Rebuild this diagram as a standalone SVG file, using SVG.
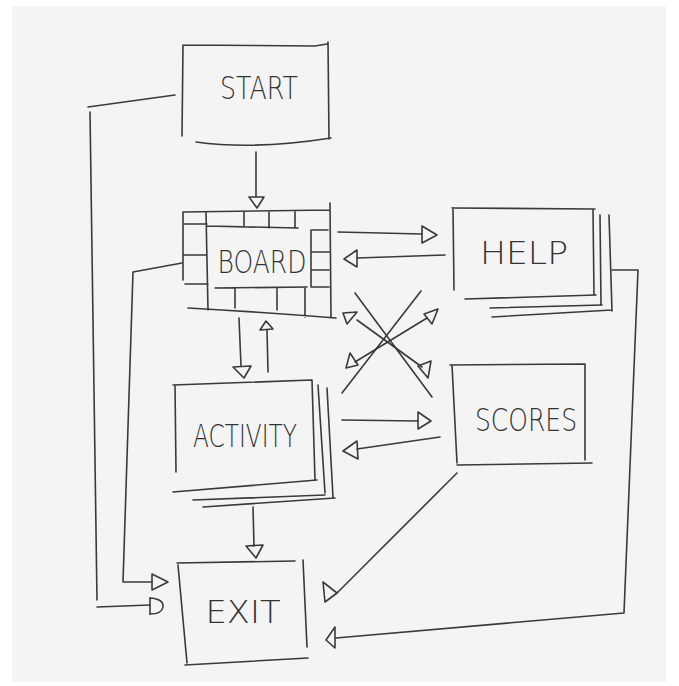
<svg xmlns="http://www.w3.org/2000/svg" width="679" height="686" viewBox="0 0 679 686">
<style>
.s{fill:none;stroke:#3a3a3a;stroke-width:1.6;stroke-linecap:round;stroke-linejoin:round}
.ah{fill:none;stroke:#3a3a3a;stroke-width:1.6;stroke-linejoin:round}
.t{font-family:"DejaVu Sans","Liberation Sans",Arial,sans-serif;font-weight:200;font-size:32px;fill:#333333;text-anchor:middle}
</style>
<rect x="0" y="0" width="679" height="686" fill="#ffffff"/>
<rect x="12" y="6" width="654" height="676" fill="#f4f4f4"/>

<g id="start">
<path class="s" d="M183,45 L315,46 L327,44 M328,42 L329,139 M196,142 Q255,150 331,138 M183,45 L182,136"/>
<text class="t" x="259" y="99" textLength="78" lengthAdjust="spacingAndGlyphs">START</text>
</g>

<g id="board">
<path class="s" d="M183,212 L330,210 M330,203 L331,318 M183,212 L183,280 M206,212 L208,310 M183,224 L207,224 M207,226 L298,228 M244,212 L244,227 M269,212 L269,228 M295,212 L295,228 M183,255 L207,255 M185,284 L208,284 M215,288 L307,287 M235,288 L235,308 M277,288 L277,310 M305,287 L305,317 M188,308 Q260,312 336,318 M311,230 L311,287 M311,230 L328,230 M311,252 L329,252 M311,270 L329,270 M311,287 L329,287"/>
<text class="t" x="262" y="273" textLength="89" lengthAdjust="spacingAndGlyphs">BOARD</text>
</g>

<g id="help">
<path class="s" d="M452,208 L595,209 M453,208 L454,290 M593,210 L594,295 M465,299 L596,295 M600,215 L601,305 M609,215 L612,311 M490,308 L602,305 M492,317 L612,310"/>
<text class="t" x="524" y="264" textLength="88" lengthAdjust="spacingAndGlyphs">HELP</text>
</g>

<g id="activity">
<path class="s" d="M173,385 L312,380 M175,385 L176,472 M312,380 L315,480 M173,492 L317,480 M318,385 L325,493 M327,388 L333,497 M193,500 L325,495 M203,507 L335,498"/>
<text class="t" x="245" y="447" textLength="104" lengthAdjust="spacingAndGlyphs">ACTIVITY</text>
</g>

<g id="scores">
<path class="s" d="M450,365 L585,364 M452,365 L457,463 M585,364 L585,460 M457,465 L592,463"/>
<text class="t" x="526" y="431" textLength="102" lengthAdjust="spacingAndGlyphs">SCORES</text>
</g>

<g id="exit">
<path class="s" d="M177,563 L295,561 M178,565 L187,663 M303,560 L307,647 M185,665 L308,658"/>
<text class="t" x="243" y="623" textLength="75" lengthAdjust="spacingAndGlyphs">EXIT</text>
</g>

<g id="connectors">
<path class="s" d="M256,152 L256,197"/>
<polygon class="ah" points="249,197 264,197 257,208"/>
<path class="s" d="M239,318 L241,366"/>
<polygon class="ah" points="233,367 251,366 244,378"/>
<path class="s" d="M268,372 L267,330"/>
<polygon class="ah" points="260,330 273,329 266,321"/>
<path class="s" d="M253,507 L254,546"/>
<polygon class="ah" points="246,546 263,545 256,558"/>
<path class="s" d="M338,232 L422,234"/>
<polygon class="ah" points="422,226 422,243 437,235"/>
<path class="s" d="M445,255 L357,258"/>
<polygon class="ah" points="357,250 357,267 344,259"/>
<path class="s" d="M342,420 L418,421"/>
<polygon class="ah" points="418,412 418,429 431,421"/>
<path class="s" d="M440,437 L357,449"/>
<polygon class="ah" points="357,441 358,459 343,451"/>
<path class="s" d="M355,293 L432,397"/>
<path class="s" d="M357,320 L422,367"/>
<polygon class="ah" points="343,313 357,312 347,324"/>
<polygon class="ah" points="418,366 431,361 428,378"/>
<path class="s" d="M342,393 L421,291"/>
<path class="s" d="M355,362 L427,318"/>
<polygon class="ah" points="346,368 350,353 358,365"/>
<polygon class="ah" points="438,309 424,314 432,324"/>
<path class="s" d="M175,95 L88,107 M90,112 L97,600 M97,607 L150,605"/>
<path class="ah" d="M150,597 L150,615 M150,598 Q164,599 163,607 Q162,614 150,614"/>
<path class="s" d="M182,263 L133,272 L123,582 L152,582"/>
<polygon class="ah" points="152,574 152,590 168,582"/>
<path class="s" d="M457,473 L337,593"/>
<polygon class="ah" points="323,582 337,593 325,602"/>
<path class="s" d="M612,270 L638,270 L624,613 L336,638"/>
<polygon class="ah" points="335,627 335,648 326,640"/>
</g>
</svg>
